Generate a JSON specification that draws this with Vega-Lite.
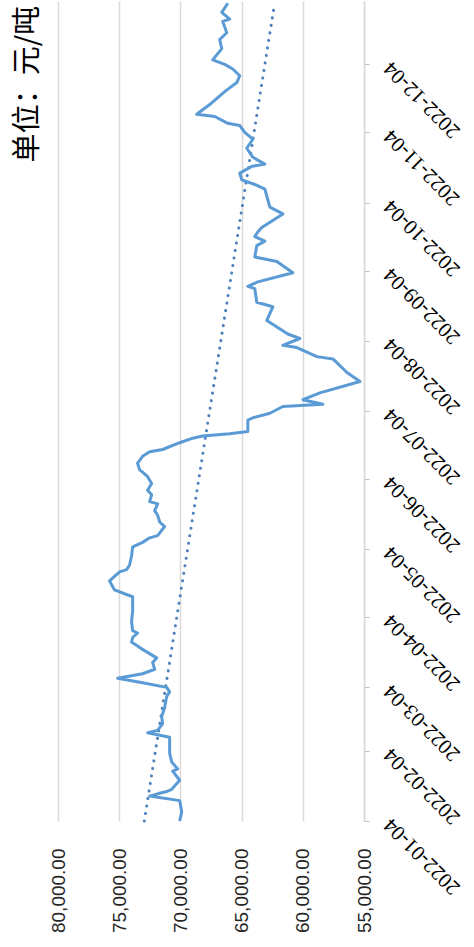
{
  "$schema": "https://vega.github.io/schema/vega-lite/v6.json",
  "width": 306,
  "height": 820,
  "autosize": {"type": "none"},
  "padding": {"left": 58, "top": 1, "right": 110, "bottom": 126},
  "background": "white",
  "config": {"view": {"stroke": null}},
  "title": {"text": "单位：元/吨", "orient": "left", "anchor": "end", "frame": "group", "font": "Noto Sans CJK SC", "fontSize": 29, "fontWeight": "normal", "color": "#000000", "offset": 6, "dx": -5},
  "datasets": {
    "price": [
      {"date": "2022-01-04", "price": 70060},
      {"date": "2022-01-08", "price": 69890},
      {"date": "2022-01-13", "price": 70060},
      {"date": "2022-01-15", "price": 72510},
      {"date": "2022-01-16", "price": 71860},
      {"date": "2022-01-17", "price": 71120},
      {"date": "2022-01-18", "price": 70710},
      {"date": "2022-01-22", "price": 70060},
      {"date": "2022-01-26", "price": 70630},
      {"date": "2022-01-27", "price": 70220},
      {"date": "2022-01-30", "price": 70710},
      {"date": "2022-02-03", "price": 70880},
      {"date": "2022-02-10", "price": 70880},
      {"date": "2022-02-12", "price": 72680},
      {"date": "2022-02-13", "price": 71860},
      {"date": "2022-02-16", "price": 71450},
      {"date": "2022-02-19", "price": 71530},
      {"date": "2022-02-23", "price": 71290},
      {"date": "2022-02-28", "price": 71120},
      {"date": "2022-03-02", "price": 70880},
      {"date": "2022-03-04", "price": 71120},
      {"date": "2022-03-06", "price": 73090},
      {"date": "2022-03-08", "price": 75130},
      {"date": "2022-03-10", "price": 73090},
      {"date": "2022-03-12", "price": 72100},
      {"date": "2022-03-15", "price": 72270},
      {"date": "2022-03-17", "price": 71940},
      {"date": "2022-03-21", "price": 73170},
      {"date": "2022-03-24", "price": 73990},
      {"date": "2022-03-26", "price": 73900},
      {"date": "2022-03-28", "price": 73500},
      {"date": "2022-03-29", "price": 73900},
      {"date": "2022-04-02", "price": 73990},
      {"date": "2022-04-07", "price": 73900},
      {"date": "2022-04-13", "price": 73900},
      {"date": "2022-04-14", "price": 74400},
      {"date": "2022-04-16", "price": 75380},
      {"date": "2022-04-20", "price": 75790},
      {"date": "2022-04-22", "price": 75380},
      {"date": "2022-04-24", "price": 74970},
      {"date": "2022-04-25", "price": 74400},
      {"date": "2022-04-27", "price": 74150},
      {"date": "2022-05-01", "price": 73990},
      {"date": "2022-05-05", "price": 73900},
      {"date": "2022-05-07", "price": 73090},
      {"date": "2022-05-09", "price": 72510},
      {"date": "2022-05-10", "price": 71860},
      {"date": "2022-05-14", "price": 71290},
      {"date": "2022-05-16", "price": 71690},
      {"date": "2022-05-19", "price": 71860},
      {"date": "2022-05-21", "price": 72100},
      {"date": "2022-05-24", "price": 71860},
      {"date": "2022-05-25", "price": 72510},
      {"date": "2022-05-28", "price": 72350},
      {"date": "2022-05-30", "price": 72680},
      {"date": "2022-06-02", "price": 72350},
      {"date": "2022-06-05", "price": 72680},
      {"date": "2022-06-07", "price": 73090},
      {"date": "2022-06-08", "price": 73330},
      {"date": "2022-06-11", "price": 73500},
      {"date": "2022-06-14", "price": 73090},
      {"date": "2022-06-16", "price": 72510},
      {"date": "2022-06-17", "price": 71450},
      {"date": "2022-06-20", "price": 70060},
      {"date": "2022-06-22", "price": 68990},
      {"date": "2022-06-23", "price": 68180},
      {"date": "2022-06-24", "price": 65970},
      {"date": "2022-06-25", "price": 64490},
      {"date": "2022-06-30", "price": 64490},
      {"date": "2022-07-01", "price": 64080},
      {"date": "2022-07-03", "price": 62690},
      {"date": "2022-07-06", "price": 61630},
      {"date": "2022-07-07", "price": 58360},
      {"date": "2022-07-09", "price": 59990},
      {"date": "2022-07-12", "price": 58600},
      {"date": "2022-07-17", "price": 55330},
      {"date": "2022-07-21", "price": 56390},
      {"date": "2022-07-27", "price": 57540},
      {"date": "2022-07-28", "price": 58850},
      {"date": "2022-08-01", "price": 60480},
      {"date": "2022-08-02", "price": 61630},
      {"date": "2022-08-05", "price": 60240},
      {"date": "2022-08-07", "price": 61220},
      {"date": "2022-08-13", "price": 62940},
      {"date": "2022-08-19", "price": 62450},
      {"date": "2022-08-21", "price": 63760},
      {"date": "2022-08-27", "price": 63920},
      {"date": "2022-08-28", "price": 64490},
      {"date": "2022-08-30", "price": 63680},
      {"date": "2022-09-03", "price": 60810},
      {"date": "2022-09-08", "price": 62120},
      {"date": "2022-09-10", "price": 63920},
      {"date": "2022-09-15", "price": 63760},
      {"date": "2022-09-17", "price": 63100},
      {"date": "2022-09-19", "price": 63920},
      {"date": "2022-09-21", "price": 63680},
      {"date": "2022-09-23", "price": 63350},
      {"date": "2022-09-29", "price": 61630},
      {"date": "2022-10-02", "price": 62690},
      {"date": "2022-10-10", "price": 63100},
      {"date": "2022-10-12", "price": 63920},
      {"date": "2022-10-14", "price": 64980},
      {"date": "2022-10-17", "price": 65150},
      {"date": "2022-10-20", "price": 64170},
      {"date": "2022-10-21", "price": 63100},
      {"date": "2022-10-24", "price": 64080},
      {"date": "2022-10-28", "price": 64580},
      {"date": "2022-11-01", "price": 64080},
      {"date": "2022-11-04", "price": 64740},
      {"date": "2022-11-07", "price": 65150},
      {"date": "2022-11-08", "price": 66130},
      {"date": "2022-11-11", "price": 67190},
      {"date": "2022-11-12", "price": 68670},
      {"date": "2022-11-17", "price": 67440},
      {"date": "2022-11-22", "price": 66380},
      {"date": "2022-11-26", "price": 65390},
      {"date": "2022-11-29", "price": 65150},
      {"date": "2022-12-02", "price": 65720},
      {"date": "2022-12-04", "price": 66380},
      {"date": "2022-12-06", "price": 67360},
      {"date": "2022-12-11", "price": 66620},
      {"date": "2022-12-15", "price": 66790},
      {"date": "2022-12-18", "price": 66210},
      {"date": "2022-12-23", "price": 66540},
      {"date": "2022-12-24", "price": 65970},
      {"date": "2022-12-27", "price": 66620},
      {"date": "2022-12-31", "price": 66130}
    ],
    "trend": [
      {"date": "2022-01-04", "price": 72950},
      {"date": "2022-12-31", "price": 62300}
    ]
  },
  "encoding": {
    "x": {
      "field": "price", "type": "quantitative",
      "scale": {"domain": [55000, 80000], "reverse": true, "nice": false, "zero": false},
      "axis": {
        "orient": "bottom", "title": null,
        "values": [55000, 60000, 65000, 70000, 75000, 80000],
        "format": ",.2f", "labelAngle": -90, "labelAlign": "right", "labelBaseline": "middle",
        "labelFont": "Liberation Sans", "labelFontSize": 19, "labelColor": "#262626", "labelPadding": 27,
        "ticks": false, "domain": false,
        "grid": true, "gridColor": "#d9d9d9", "gridWidth": 1.5
      }
    },
    "y": {
      "field": "date", "type": "temporal",
      "scale": {"type": "utc", "nice": false,
        "domain": [{"year": 2022, "month": 1, "date": 4, "utc": true}, {"year": 2023, "month": 1, "date": 1, "utc": true}]},
      "axis": {
        "orient": "right", "title": null,
        "values": [
          {"year": 2022, "month": 1, "date": 4, "utc": true},
          {"year": 2022, "month": 2, "date": 4, "utc": true},
          {"year": 2022, "month": 3, "date": 4, "utc": true},
          {"year": 2022, "month": 4, "date": 4, "utc": true},
          {"year": 2022, "month": 5, "date": 4, "utc": true},
          {"year": 2022, "month": 6, "date": 4, "utc": true},
          {"year": 2022, "month": 7, "date": 4, "utc": true},
          {"year": 2022, "month": 8, "date": 4, "utc": true},
          {"year": 2022, "month": 9, "date": 4, "utc": true},
          {"year": 2022, "month": 10, "date": 4, "utc": true},
          {"year": 2022, "month": 11, "date": 4, "utc": true},
          {"year": 2022, "month": 12, "date": 4, "utc": true}
        ],
        "labelExpr": "utcFormat(datum.value, '%Y-%m-%d')",
        "labelAngle": 225, "labelAlign": "right", "labelBaseline": "middle",
        "labelFont": "Liberation Serif", "labelFontSize": 21, "labelColor": "#000000", "labelPadding": 18,
        "tickColor": "#bfbfbf", "tickSize": 5, "tickWidth": 1,
        "domain": true, "domainColor": "#d9d9d9", "domainWidth": 1.5,
        "grid": false, "labelOverlap": false
      }
    }
  },
  "layer": [
    {
      "data": {"name": "trend"},
      "mark": {"type": "line", "color": "#4f81bd", "strokeWidth": 3, "strokeDash": [0.1, 7.5], "strokeCap": "round"},
      "encoding": {"order": {"field": "date", "type": "temporal"}}
    },
    {
      "data": {"name": "price"},
      "mark": {"type": "line", "color": "#5b9bd5", "strokeWidth": 3, "strokeJoin": "round"},
      "encoding": {"order": {"field": "date", "type": "temporal"}}
    }
  ]
}
